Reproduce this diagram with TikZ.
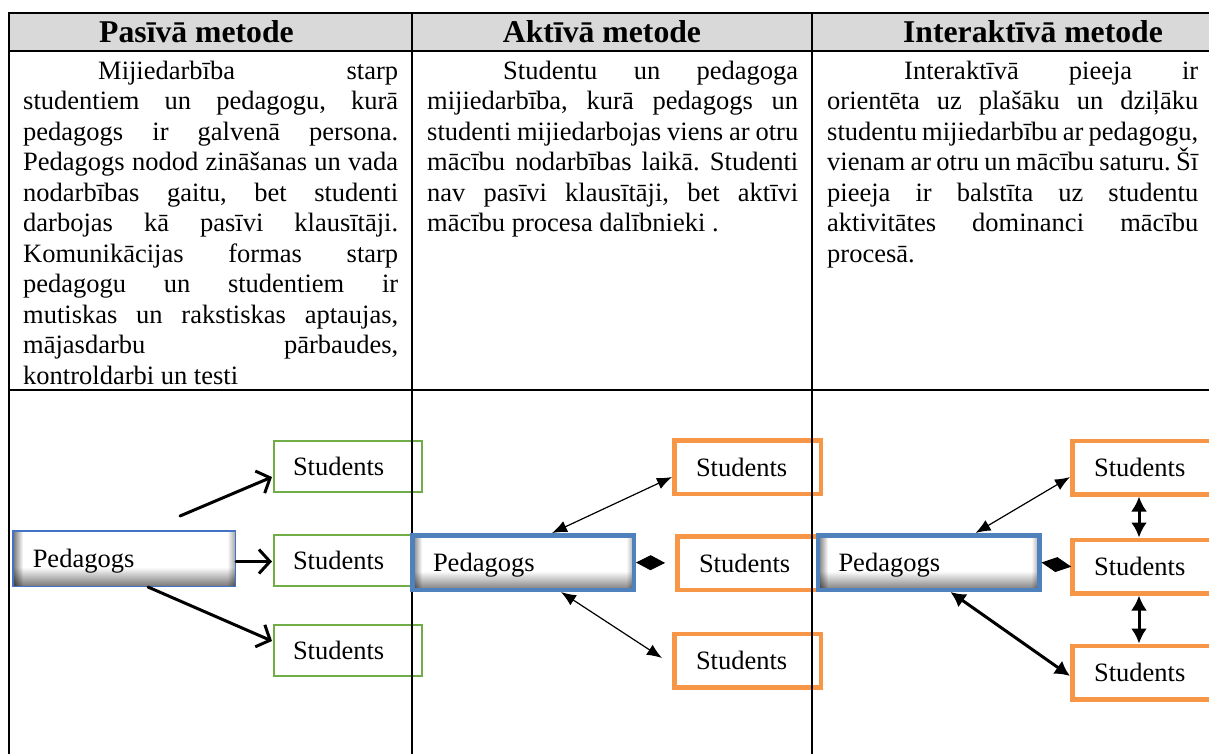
\documentclass[tikz,border=0pt]{standalone}
\usepackage{fontspec}
\setmainfont{Liberation Serif}
\usetikzlibrary{arrows.meta,calc}
\definecolor{grn}{HTML}{70AD47}
\definecolor{org}{HTML}{F79646}
\definecolor{bluA}{HTML}{4472C4}
\definecolor{bluB}{HTML}{4F81BD}
\definecolor{hdr}{HTML}{D9D9D9}
\frenchspacing
\begin{document}
\begin{tikzpicture}[x=1pt,y=1pt,
  rule/.style={line width=2pt,black},
  hdrtext/.style={font=\fontsize{31.7pt}{36pt}\selectfont\bfseries,anchor=base,inner sep=0},
  bodytext/.style={font=\fontsize{26.5pt}{30.5pt}\selectfont,anchor=north west,inner sep=0,align=justify},
  lbl/.style={font=\fontsize{26.5pt}{30pt}\selectfont,align=left,inner ysep=0,text height=18pt,text depth=0pt},
  pedshade/.style={fill=white,path picture={
     \foreach \i in {0,...,17}{
       \pgfmathsetmacro\o{max(0,0.5-0.028*\i)}
       \fill[black,opacity=\o] ($(path picture bounding box.south west)+(0,\i)$) rectangle ($(path picture bounding box.south east)+(0,\i+1)$);
     }
     \foreach \i in {0,...,9}{
       \pgfmathsetmacro\o{max(0,0.55-0.055*\i)}
       \fill[black,opacity=\o] ($(path picture bounding box.south west)+(\i,0)$) rectangle ($(path picture bounding box.north west)+(\i+1,0)$);
     }
     \foreach \i in {0,...,6}{
       \pgfmathsetmacro\o{max(0,0.3-0.045*\i)}
       \fill[black,opacity=\o] ($(path picture bounding box.south east)+(-\i,0)$) rectangle ($(path picture bounding box.north east)+(-\i-1,0)$);
     }
  }},
  pedA/.style={lbl,pedshade,draw=bluA,line width=1.5pt,text width=182.5pt,inner xsep=20pt,minimum height=55.5pt},
  pedB/.style={lbl,pedshade,draw=bluB,line width=4.5pt,text width=180pt,inner xsep=20.75pt,minimum height=54.5pt},
  stuA/.style={lbl,draw=grn,line width=2pt,text width=110pt,inner xsep=19pt,minimum height=51pt},
  stuB/.style={lbl,draw=org,line width=4.5pt,text width=103pt,inner xsep=21.75pt,minimum height=53.5pt},
  openarr/.style={line width=3pt,line cap=round,-{Straight Barb[length=11pt,width=24pt,line width=3pt]}},
  thinarr/.style={line width=1.2pt,{Latex[length=15pt,width=12pt]}-{Latex[length=15pt,width=12pt]}},
  thickarr/.style={line width=3pt,{Latex[length=15pt,width=16pt]}-{Latex[length=15pt,width=16pt]}},
]
\useasboundingbox (0,0) rectangle (1209,-753);
\clip (0,0) rectangle (1209,-753);

% table
\fill[hdr] (9,-13) rectangle (1215,-51);
\draw[rule] (9,-13) -- (1215,-13);
\draw[rule] (9,-51) -- (1215,-51);
\draw[rule] (9,-390) -- (1215,-390);
\draw[rule] (9,-12) -- (9,-760);

\node[hdrtext] (h1) at (196.5,-42.7) {Pasīvā metode};
\node[hdrtext] (h2) at (602,-42.7) {Aktīvā metode};
\node[hdrtext] (h3) at (1033,-42.7) {Interaktīvā metode};

\node[bodytext,text width=375pt] (t1) at (23,-58) {\hyphenpenalty=10000\tolerance=10000\rule{0pt}{21pt}\hspace*{75pt}Mijiedarbība starp\linebreak
studentiem un pedagogu, kurā\linebreak
pedagogs ir galvenā persona.\linebreak
Pedagogs nodod zināšanas un vada\linebreak
nodarbības gaitu, bet studenti\linebreak
darbojas kā pasīvi klausītāji.\linebreak
Komunikācijas formas starp\linebreak
pedagogu un studentiem ir\linebreak
mutiskas un rakstiskas aptaujas,\linebreak
mājasdarbu pārbaudes,\linebreak
kontroldarbi un testi};

\node[bodytext,text width=371pt] (t2) at (427,-58) {\hyphenpenalty=10000\tolerance=10000\rule{0pt}{21pt}\hspace*{76pt}Studentu un pedagoga\linebreak
mijiedarbība, kurā pedagogs un\linebreak
studenti mijiedarbojas viens ar otru\linebreak
mācību nodarbības laikā. Studenti\linebreak
nav pasīvi klausītāji, bet aktīvi\linebreak
mācību procesa dalībnieki .};

\node[bodytext,text width=371pt] (t3) at (827,-58) {\hyphenpenalty=10000\tolerance=10000\rule{0pt}{21pt}\hspace*{77pt}Interaktīvā pieeja ir\linebreak
orientēta uz plašāku un dziļāku\linebreak
studentu mijiedarbību ar pedagogu,\linebreak
vienam ar otru un mācību saturu. Šī\linebreak
pieeja ir balstīta uz studentu\linebreak
aktivitātes dominanci mācību\linebreak
procesā.};

% column 1
\node[stuA] (s1a) at (348,-466.5) {Students};
\node[stuA] (s1b) at (348,-560.5) {Students};
\node[stuA] (s1c) at (348,-650.5) {Students};
% column 2
\node[stuB] (s2a) at (747.5,-467) {Students};
\node[stuB] (s2b) at (750.5,-563) {Students};
\node[stuB] (s2c) at (747.5,-660.5) {Students};
% column 3
\node[stuB] (s3a) at (1145.5,-467.5) {Students};
\node[stuB] (s3b) at (1145.5,-566.5) {Students};
\node[stuB] (s3c) at (1145.5,-672.5) {Students};

% dividers (drawn over student boxes)
\draw[rule] (412,-12) -- (412,-760);
\draw[rule] (812,-12) -- (812,-760);

\node[pedA] (p1) at (124,-558.5) {Pedagogs};
\node[pedB] (p2) at (523,-562.5) {Pedagogs};
\node[pedB] (p3) at (928.5,-562.5) {Pedagogs};

% connectors column 1
\coordinate (a1s) at (180,-516);
\draw[openarr] (a1s) -- ($(s1a.west)+(-1,-10.5)$);
\draw[openarr] ($(p1.east)+(0,-3)$) -- ($(s1b.west)+(-1,-1)$);
\draw[openarr] ($(p1.south west)+(136,0)$) -- ($(s1c.west)+(-1,9.5)$);

% connectors column 2
\draw[thinarr] ($(p2.north west)+(142,0)$) -- ($(s2a.west)+(0,-10)$);
\draw[line width=1pt,{Diamond[length=29pt,width=15pt]}-,shorten >=15.5pt] (p2.east) -- (s2b.west);
\draw[thinarr] ($(p2.south west)+(151,0)$) -- ($(s2c.west)+(-10,2.5)$);

% connectors column 3
\draw[thinarr] ($(p3.north west)+(160,0)$) -- ($(s3a.west)+(0,-9.5)$);
\draw[line width=1pt,{Diamond[length=30pt,width=15pt]}-,shorten >=3.5pt] (p3.east) -- (s3b.west);
\draw[thickarr] ($(p3.south west)+(135,0)$) -- ($(s3c.west)+(0,-3.5)$);
\draw[thickarr] ($(s3a.south)+(-6.5,0)$) -- ($(s3b.north)+(-6.5,0)$);
\draw[thickarr] ($(s3b.south)+(-6.5,0)$) -- ($(s3c.north)+(-6.5,0)$);
\end{tikzpicture}
\end{document}
